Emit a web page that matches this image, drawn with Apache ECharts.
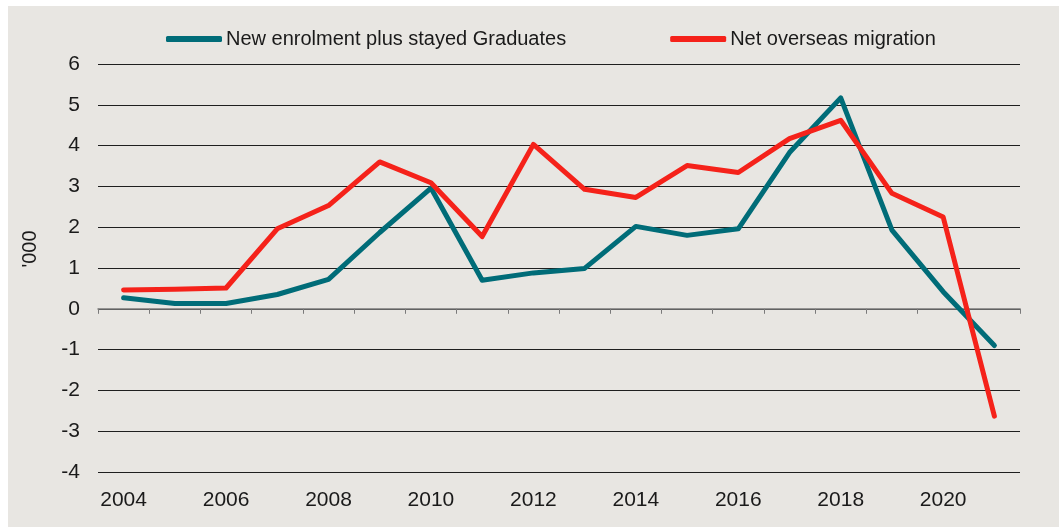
<!DOCTYPE html>
<html>
<head>
<meta charset="utf-8">
<script src="https://cdn.jsdelivr.net/npm/echarts@6/dist/echarts.min.js"></script>
<style>
  html, body { margin: 0; padding: 0; background: #ffffff; }
  #chart { position: absolute; left: 8px; top: 6px; width: 1051px; height: 521px; background: #e8e6e2; }
</style>
</head>
<body>
<div id="chart"></div>
<script>
var years = ['2004', '2005', '2006', '2007', '2008', '2009', '2010', '2011', '2012',
    '2013', '2014', '2015', '2016', '2017', '2018', '2019', '2020', '2021'];

var enrolment = [0.27, 0.13, 0.13, 0.35, 0.72, 1.87, 2.96, 0.70, 0.88,
    0.99, 2.02, 1.80, 1.96, 3.83, 5.17, 1.93, 0.42, -0.90];

var migration = [0.46, 0.48, 0.51, 1.96, 2.53, 3.60, 3.09, 1.77, 4.03,
    2.93, 2.73, 3.51, 3.34, 4.17, 4.62, 2.83, 2.25, -2.63];

var fontFamily = '"Liberation Sans", Arial, sans-serif';

var chart = echarts.init(document.getElementById('chart'));

chart.setOption({
    animation: false,
    textStyle: { fontFamily: fontFamily, color: '#1a1a1a' },
    legend: {
        top: 18,
        left: 153,
        itemGap: 104,
        itemWidth: 56,
        itemHeight: 6,
        textStyle: { fontSize: 20, color: '#1a1a1a', padding: [0, 0, 0, -1] },
        data: [
            { name: 'New enrolment plus stayed Graduates', icon: 'roundRect' },
            { name: 'Net overseas migration', icon: 'roundRect' }
        ]
    },
    grid: { left: 90, right: 39, top: 58, bottom: 55 },
    xAxis: [
        {
            // zero line with the year ticks
            type: 'category',
            data: years,
            axisLine: { onZero: true, lineStyle: { color: '#7a7a7a', width: 1.5 } },
            axisTick: { show: true, length: 5, lineStyle: { color: '#7a7a7a' } },
            axisLabel: { show: false },
            splitLine: { show: false }
        },
        {
            // labels sit at the bottom of the plot
            type: 'category',
            data: years,
            position: 'bottom',
            axisLine: { show: false, onZero: false },
            axisTick: { show: false },
            axisLabel: { interval: 1, fontSize: 21, color: '#1a1a1a', margin: 18 },
            splitLine: { show: false }
        }
    ],
    yAxis: {
        type: 'value',
        min: -4,
        max: 6,
        interval: 1,
        name: "'000",
        nameLocation: 'middle',
        nameGap: 58,
        nameTextStyle: { fontSize: 20, color: '#1a1a1a', padding: [0, 0, 0, 38] },
        axisLine: { show: false },
        axisTick: { show: false },
        axisLabel: { fontSize: 21, color: '#1a1a1a', margin: 18 },
        splitLine: { lineStyle: { color: '#1f1f1f', width: 1 } }
    },
    series: [
        {
            name: 'New enrolment plus stayed Graduates',
            type: 'line',
            data: enrolment,
            symbol: 'none',
            color: '#006c78',
            lineStyle: { width: 5, color: '#006c78', cap: 'round', join: 'round' },
            z: 3
        },
        {
            name: 'Net overseas migration',
            type: 'line',
            data: migration,
            symbol: 'none',
            color: '#f5221a',
            lineStyle: { width: 5, color: '#f5221a', cap: 'round', join: 'round' },
            z: 4
        }
    ]
});
</script>
</body>
</html>
